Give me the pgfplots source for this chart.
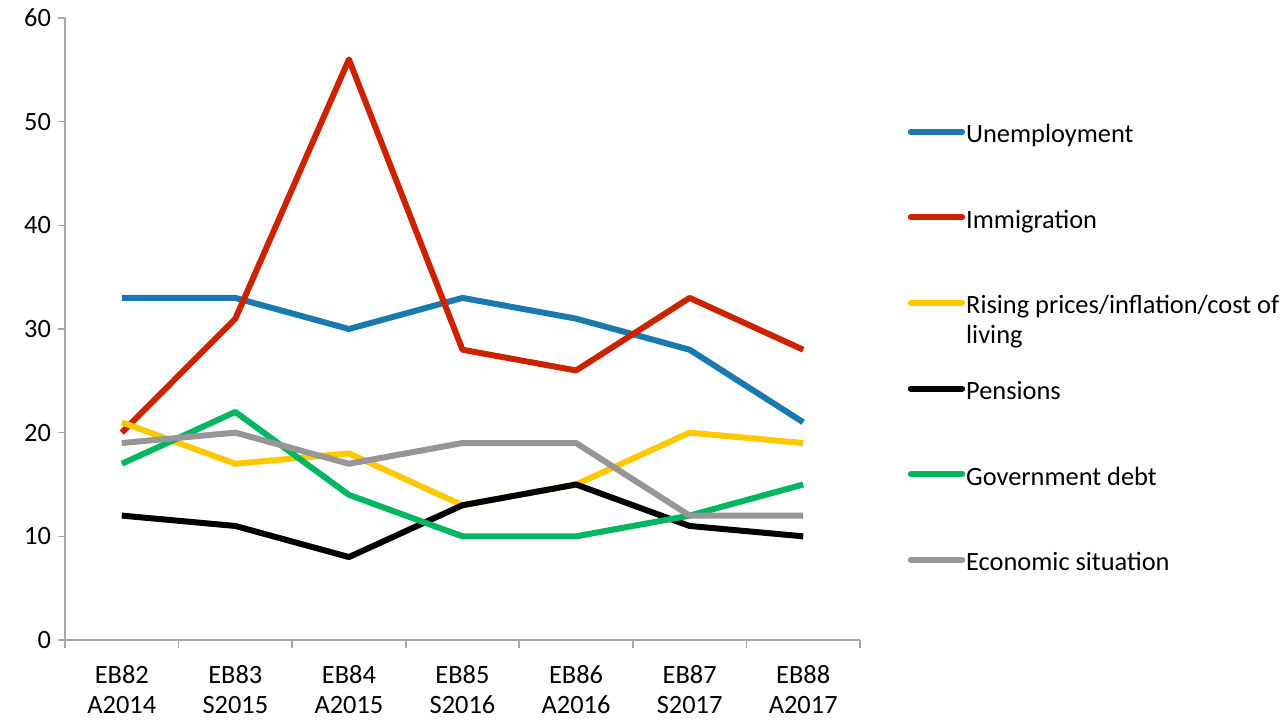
\documentclass[border=0pt]{standalone}
\usepackage{pgfplots}
\pgfplotsset{compat=1.18}
\usepackage{fontspec}
\setmainfont{Carlito}
\definecolor{cUnemp}{HTML}{1A7AB0}
\definecolor{cImmig}{HTML}{CC2200}
\definecolor{cPrice}{HTML}{FFC800}
\definecolor{cPens}{HTML}{000000}
\definecolor{cDebt}{HTML}{00B660}
\definecolor{cEcon}{HTML}{969696}
\definecolor{cAxis}{HTML}{A6A6A6}
\newcommand\ls{\rule[-2.8pt]{0pt}{15.3pt}}
\begin{document}
\begin{tikzpicture}
\path[use as bounding box] (0,0) rectangle (643.5pt,359.5pt);
\begin{axis}[
  at={(32.5pt,39.5pt)}, anchor=south west,
  scale only axis, width=397.5pt, height=311pt,
  xmin=-0.5, xmax=6.5, ymin=0, ymax=60,
  axis x line*=bottom, axis y line*=left,
  axis line style={draw=cAxis, line width=0.8pt, -},
  ytick={0,10,...,60},
  xtick={0,...,6},
  xticklabels={{EB82\\A2014},{EB83\\S2015},{EB84\\A2015},{EB85\\S2016},{EB86\\A2016},{EB87\\S2017},{EB88\\A2017}},
  xticklabel style={align=center, yshift=-5.5pt},
  minor xtick={-0.5,0.5,...,6.5},
  tick align=outside,
  major tick length=3.5pt, minor tick length=4pt,
  tick style={draw=cAxis, line width=0.8pt},
  major x tick style={draw=none},
  ticklabel style={font=\fontsize{13.2}{15}\selectfont},
  /pgf/number format/assume math mode=true,
  clip=false,
  legend style={draw=none, fill=none, at={(1.0601,0.8397)}, anchor=north west,
    inner sep=0pt, outer sep=0pt, row sep=28.8pt, column sep=0.5pt,
    font=\fontsize{13.2}{15}\selectfont, nodes={inner sep=0pt}, cells={anchor=west}},
  legend image code/.code={\draw[#1, line cap=round] (0pt,0pt) -- (25.7pt,0pt);},
  every axis plot/.append style={line width=3pt, line join=round, mark=none},
]
\addplot[cUnemp] coordinates {(0,33) (1,33) (2,30) (3,33) (4,31) (5,28) (6,21)};
\addlegendentry{\ls Unemployment}
\addplot[cImmig] coordinates {(0,20) (1,31) (2,56) (3,28) (4,26) (5,33) (6,28)};
\addlegendentry{\ls Immigration}
\addplot[cPrice] coordinates {(0,21) (1,17) (2,18) (3,13) (4,15) (5,20) (6,19)};
\addlegendentry{\ls\smash{\rlap{\raisebox{-15pt}{living}}}Rising prices/inflation/cost of}
\addplot[cPens] coordinates {(0,12) (1,11) (2,8) (3,13) (4,15) (5,11) (6,10)};
\addlegendentry{\ls Pensions}
\addplot[cDebt] coordinates {(0,17) (1,22) (2,14) (3,10) (4,10) (5,12) (6,15)};
\addlegendentry{\ls Government debt}
\addplot[cEcon] coordinates {(0,19) (1,20) (2,17) (3,19) (4,19) (5,12) (6,12)};
\addlegendentry{\ls Economic situation}
\end{axis}
\end{tikzpicture}
\end{document}
